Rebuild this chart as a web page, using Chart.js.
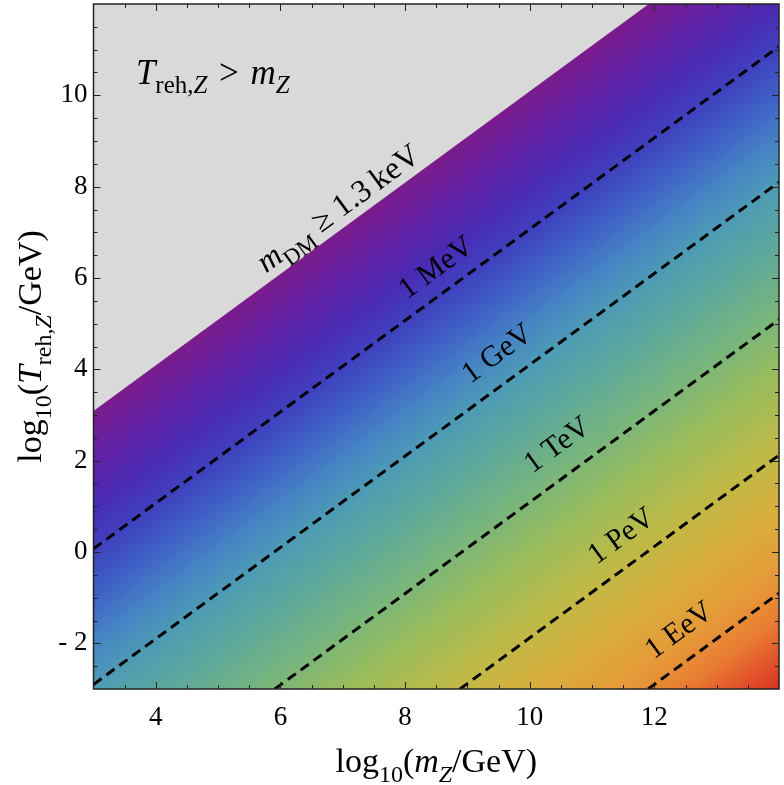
<!DOCTYPE html>
<html>
<head>
<meta charset="utf-8">
<script src="https://cdn.jsdelivr.net/npm/chart.js@4.4.1/dist/chart.umd.min.js"></script>
<style>
    html, body { margin: 0; padding: 0; background: #fff; }
    canvas { display: block; }
</style>
</head>
<body>
<canvas id="reheatChart" width="784" height="785"></canvas>
<script>
// axes
const xTicks = [4, 6, 8, 10, 12];
const yTicks = [-2, 0, 2, 4, 6, 8, 10];
const yTickLabels = ['- 2', '0', '2', '4', '6', '8', '10'];

// edge of the excluded region (m_DM >= 1.3 keV)
const boundaryX = [3, 11.91, 14];
const boundaryY = [3.09, 12, 12];

// constant DM mass lines
const massNames = ['1 MeV', '1 GeV', '1 TeV', '1 PeV', '1 EeV'];
const massX0 = [3, 3, 5.91, 8.88, 11.9];
const massY0 = [0.07, -2.9, -3, -3, -3];
const massX1 = [14, 14, 14, 14, 14];
const massY1 = [11.07, 8.1, 5.09, 2.12, -0.9];

// where the labels sit
const labelX = [8.58, 9.56, 10.52, 11.55, 12.48];
const labelY = [6.27, 4.39, 2.39, 0.39, -1.67];
const keVLabel = [7.02, 7.57];
const regionLabel = [3.68, 10.5];

// colour map as a function of log10 m_DM offset (x - y)
const cmapD = [-0.1, 1, 2, 3, 4, 5, 6, 7, 8.5, 10, 11.5, 13, 14.5, 15.5, 16.3, 17];
const cmapColors = ['#7b1b8b', '#6222a6', '#4a2ab4', '#3f42bf', '#3f62c6', '#4684c4', '#4e9cb4',
    '#5aa6a0', '#74b480', '#98bc5c', '#bcba48', '#d8ae3c', '#e69838', '#e87a32', '#e2522a', '#d83222'];

const SERIF = '"Liberation Serif", "DejaVu Serif", serif';

function richText(ctx, runs, x, y, angle, size, align) {
    const fontFor = style => {
        const sub = style.endsWith('s');
        const it = style.startsWith('i');
        return (it ? 'italic ' : '') + Math.round(sub ? size * 0.72 : size) + 'px ' + SERIF;
    };
    let total = 0;
    const widths = runs.map(r => {
        ctx.font = fontFor(r[1]);
        const w = ctx.measureText(r[0]).width;
        total += w;
        return w;
    });
    ctx.save();
    ctx.translate(x, y);
    ctx.rotate(angle);
    ctx.fillStyle = '#000';
    ctx.textBaseline = 'alphabetic';
    ctx.textAlign = 'left';
    let cur = align === 'center' ? -total / 2 : 0;
    runs.forEach((r, i) => {
        ctx.font = fontFor(r[1]);
        ctx.fillText(r[0], cur, r[1].endsWith('s') ? size * 0.28 : 0);
        cur += widths[i];
    });
    ctx.restore();
}

function massGradient(context) {
    const chart = context.chart;
    if (!chart.chartArea) return null;
    const xs = chart.scales.x, ys = chart.scales.y;
    const sx = xs.getPixelForValue(1) - xs.getPixelForValue(0);
    const sy = ys.getPixelForValue(0) - ys.getPixelForValue(1);
    const d0 = cmapD[0], d1 = cmapD[cmapD.length - 1];
    const px0 = xs.getPixelForValue(3), py0 = ys.getPixelForValue(3 - d0);
    const gx = 1 / sx, gy = 1 / sy, g2 = gx * gx + gy * gy;
    const grad = chart.ctx.createLinearGradient(px0, py0,
        px0 + (d1 - d0) * gx / g2, py0 + (d1 - d0) * gy / g2);
    cmapD.forEach((d, i) => grad.addColorStop((d - d0) / (d1 - d0), cmapColors[i]));
    return grad;
}

const framePlugin = {
    id: 'frame',
    beforeDatasetsDraw(chart) {
        const { ctx, chartArea: a } = chart;
        ctx.save();
        ctx.fillStyle = '#d9d9d9';
        ctx.fillRect(a.left, a.top, a.right - a.left, a.bottom - a.top);
        ctx.restore();
    },
    afterDatasetsDraw(chart) {
        const { ctx, chartArea: a, scales } = chart;
        const xs = scales.x, ys = scales.y;
        ctx.save();
        ctx.strokeStyle = '#222';
        ctx.lineWidth = 1;
        for (let v = 3.5; v < 14; v += 0.5) {
            const p = Math.round(xs.getPixelForValue(v)) + 0.5;
            const len = v % 2 === 0 ? 7 : 4;
            ctx.beginPath();
            ctx.moveTo(p, a.bottom); ctx.lineTo(p, a.bottom - len);
            ctx.moveTo(p, a.top); ctx.lineTo(p, a.top + len);
            ctx.stroke();
        }
        for (let v = -2.5; v < 12; v += 0.5) {
            const p = Math.round(ys.getPixelForValue(v)) + 0.5;
            const len = v % 2 === 0 ? 7 : 4;
            ctx.beginPath();
            ctx.moveTo(a.left, p); ctx.lineTo(a.left + len, p);
            ctx.moveTo(a.right, p); ctx.lineTo(a.right - len, p);
            ctx.stroke();
        }
        ctx.lineWidth = 1.5;
        ctx.strokeRect(a.left, a.top, a.right - a.left, a.bottom - a.top);

        const ang = -Math.atan2(ys.getPixelForValue(0) - ys.getPixelForValue(1),
            xs.getPixelForValue(1) - xs.getPixelForValue(0));
        massNames.forEach((name, i) => {
            richText(ctx, [[name, 'r']], xs.getPixelForValue(labelX[i]),
                ys.getPixelForValue(labelY[i]) + 9, ang, 30, 'center');
        });
        richText(ctx, [['m', 'i'], ['DM', 'rs'], [' \u2265 1.3\u2009keV', 'r']],
            xs.getPixelForValue(keVLabel[0]), ys.getPixelForValue(keVLabel[1]) + 10, ang, 32, 'center');
        richText(ctx, [['T', 'i'], ['reh,', 'rs'], ['Z', 'is'], ['\u2004>\u2004', 'r'], ['m', 'i'], ['Z', 'is']],
            xs.getPixelForValue(regionLabel[0]), ys.getPixelForValue(regionLabel[1]) + 11, 0, 35, 'left');
        ctx.restore();
    },
    afterDraw(chart) {
        const { ctx, chartArea: a } = chart;
        richText(ctx, [['log', 'r'], ['10', 'rs'], ['(', 'r'], ['m', 'i'], ['Z', 'is'], ['/GeV)', 'r']],
            (a.left + a.right) / 2, 772, 0, 34, 'center');
        richText(ctx, [['log', 'r'], ['10', 'rs'], ['(', 'r'], ['T', 'i'], ['reh,', 'rs'], ['Z', 'is'], ['/GeV)', 'r']],
            41, (a.top + a.bottom) / 2, -Math.PI / 2, 34, 'center');
    }
};

const datasets = [{
    data: boundaryX.map((x, i) => ({ x: x, y: boundaryY[i] })),
    fill: 'start',
    backgroundColor: massGradient,
    borderWidth: 0,
    pointRadius: 0,
    order: 10
}];
massNames.forEach((name, i) => {
    datasets.push({
        label: name,
        data: [{ x: massX0[i], y: massY0[i] }, { x: massX1[i], y: massY1[i] }],
        borderColor: '#000',
        borderWidth: 3,
        borderDash: [10, 6],
        pointRadius: 0,
        fill: false,
        order: 0
    });
});

const tickFont = { family: SERIF, size: 27 };

new Chart(document.getElementById('reheatChart'), {
    type: 'line',
    data: { datasets: datasets },
    options: {
        responsive: false,
        animation: false,
        devicePixelRatio: 1,
        layout: { padding: { top: 4, right: 5, left: 0, bottom: 0 } },
        plugins: { legend: { display: false }, tooltip: { enabled: false } },
        scales: {
            x: {
                type: 'linear', min: 3, max: 14,
                afterBuildTicks: s => { s.ticks = xTicks.map(v => ({ value: v })); },
                afterFit: s => { s.height = 96; s.paddingLeft = 0; s.paddingRight = 0; },
                ticks: { font: tickFont, color: '#000', padding: 13, maxRotation: 0 },
                grid: { display: false, drawTicks: false },
                border: { display: false }
            },
            y: {
                type: 'linear', min: -3, max: 12,
                afterBuildTicks: s => { s.ticks = yTicks.map(v => ({ value: v })); },
                afterFit: s => { s.width = 93.5; s.paddingTop = 0; s.paddingBottom = 0; },
                ticks: {
                    font: tickFont, color: '#000', padding: 6,
                    callback: v => yTickLabels[yTicks.indexOf(v)]
                },
                grid: { display: false, drawTicks: false },
                border: { display: false }
            }
        }
    },
    plugins: [framePlugin]
});
</script>
</body>
</html>
